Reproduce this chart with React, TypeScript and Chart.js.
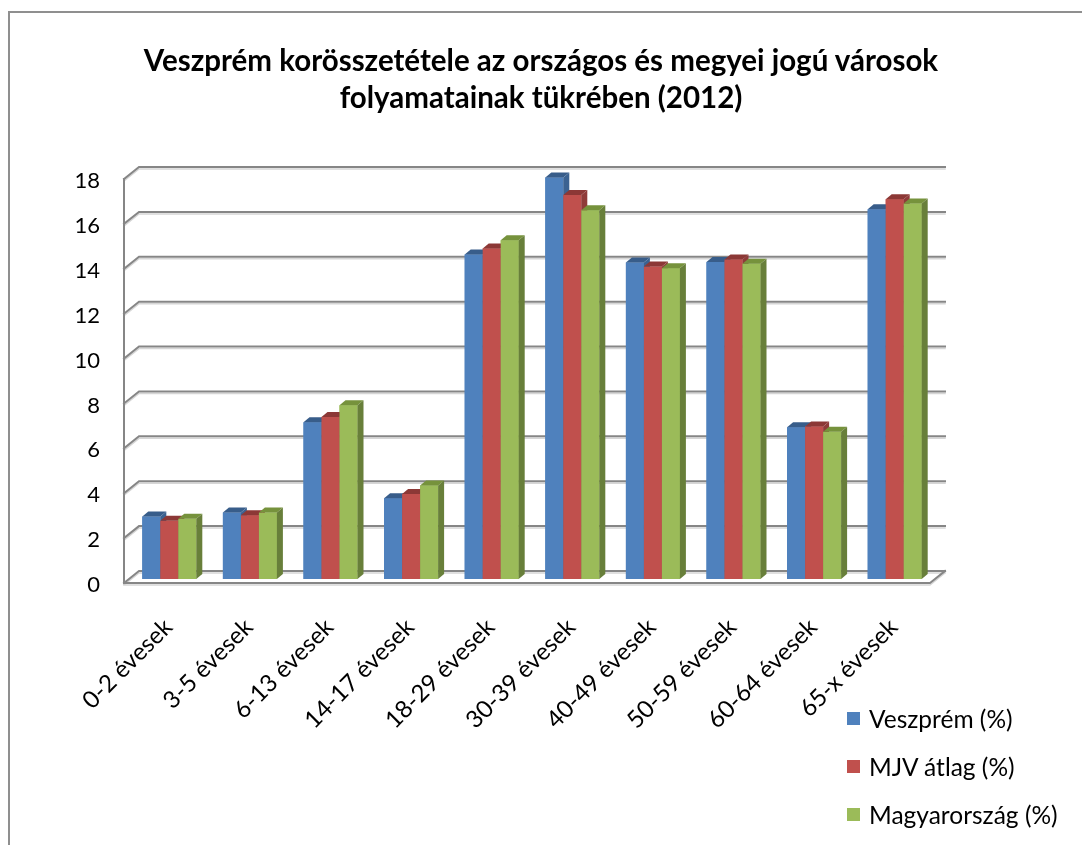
import React, { useEffect, useRef } from "react";
import { Chart, registerables } from "chart.js";

Chart.register(...registerables);

const categories = [
  "0-2 évesek",
  "3-5 évesek",
  "6-13 évesek",
  "14-17 évesek",
  "18-29 évesek",
  "30-39 évesek",
  "40-49 évesek",
  "50-59 évesek",
  "60-64 évesek",
  "65-x évesek",
];
const seriesNames = ["Veszprém (%)", "MJV átlag (%)", "Magyarország (%)"];
const veszprem = [2.78, 2.96, 6.98, 3.6, 14.46, 17.89, 14.1, 14.12, 6.76, 16.47];
const mjvAtlag = [2.59, 2.84, 7.22, 3.79, 14.73, 17.11, 13.92, 14.24, 6.8, 16.92];
const magyarorszag = [2.68, 2.96, 7.74, 4.17, 15.09, 16.43, 13.85, 14.05, 6.56, 16.73];
const yTicks = [0, 2, 4, 6, 8, 10, 12, 14, 16, 18];

const frontColors = ["#4F81BD", "#C0504D", "#9BBB59"];
const topColors = ["#385D8A", "#8C3836", "#76923C"];
const sideColors = ["#3B6291", "#8F3B39", "#687F3A"];

const FONT = "Lato, 'Open Sans', sans-serif";

const WALL_DX = 15;
const WALL_DY = 12;
const BAR_DX = 5;
const BAR_DY = 4;
const TOP_DX = 6;
const TOP_DY = 5;

const threeD = {
  id: "threeD",
  beforeDatasetsDraw(chart: any) {
    const { ctx, chartArea, scales } = chart;
    const { left, right, top, bottom } = chartArea;
    const y = scales.y;
    ctx.save();
    ctx.lineCap = "square";
    const drawGrid = (color: string, off: number, w: number) => {
      ctx.strokeStyle = color;
      ctx.lineWidth = w;
      ctx.beginPath();
      yTicks.forEach((v) => {
        const py = y.getPixelForValue(v) + off;
        ctx.moveTo(left, py);
        ctx.lineTo(left + WALL_DX, py - WALL_DY);
        ctx.lineTo(right + WALL_DX, py - WALL_DY);
      });
      ctx.moveTo(left, top + off);
      ctx.lineTo(left, bottom + off);
      ctx.lineTo(right, bottom + off);
      ctx.lineTo(right + WALL_DX, bottom - WALL_DY + off);
      ctx.stroke();
    };
    drawGrid("#d6d6d6", 2, 1.5);
    drawGrid("#868686", 0, 2);
    ctx.restore();
    ctx.save();
    ctx.translate(BAR_DX, -BAR_DY);
  },
  afterDatasetsDraw(chart: any) {
    const { ctx } = chart;
    const n = chart.data.labels.length;
    for (let i = 0; i < n; i++) {
      chart.data.datasets.forEach((_: any, d: number) => {
        const meta = chart.getDatasetMeta(d);
        const el = meta.data[i];
        if (!el) return;
        const { x, y, base, width } = el.getProps(["x", "y", "base", "width"], true);
        const l = x - width / 2;
        const r = x + width / 2;
        ctx.fillStyle = frontColors[d];
        ctx.fillRect(l, y, width, base - y);
        ctx.fillStyle = topColors[d];
        ctx.beginPath();
        ctx.moveTo(l, y);
        ctx.lineTo(l + TOP_DX, y - TOP_DY);
        ctx.lineTo(r + TOP_DX, y - TOP_DY);
        ctx.lineTo(r, y);
        ctx.closePath();
        ctx.fill();
        ctx.fillStyle = sideColors[d];
        ctx.beginPath();
        ctx.moveTo(r, y);
        ctx.lineTo(r + TOP_DX, y - TOP_DY);
        ctx.lineTo(r + TOP_DX, base - TOP_DY);
        ctx.lineTo(r, base);
        ctx.closePath();
        ctx.fill();
      });
    }
    ctx.restore();
  },
};

export default function App() {
  const ref = useRef<HTMLCanvasElement | null>(null);

  useEffect(() => {
    if (!ref.current) return;
    const values = [veszprem, mjvAtlag, magyarorszag];
    const chart = new Chart(ref.current, {
      type: "bar",
      data: {
        labels: categories,
        datasets: values.map((vals, i) => ({
          label: seriesNames[i],
          data: vals,
          backgroundColor: frontColors[i],
          borderWidth: 0,
          categoryPercentage: 0.67,
          barPercentage: 1,
          clip: false as any,
        })),
      },
      options: {
        responsive: false,
        animation: false,
        layout: { padding: { top: 179, right: 152, left: 0, bottom: 0 } },
        plugins: {
          legend: { display: false },
          title: { display: false },
          tooltip: { enabled: false },
        },
        scales: {
          x: {
            grid: { display: false, drawTicks: false },
            border: { display: false },
            ticks: {
              minRotation: 45,
              maxRotation: 45,
              autoSkip: false,
              padding: 30,
              labelOffset: 4,
              color: "#000",
              font: { family: FONT, size: 24 },
            },
            afterFit: (s: any) => {
              s.height = 262;
            },
          },
          y: {
            min: 0,
            max: 18,
            grid: { display: false, drawTicks: false },
            border: { display: false },
            ticks: {
              stepSize: 2,
              padding: 24,
              labelOffset: 2,
              color: "#000",
              font: { family: FONT, size: 22 },
            },
            afterFit: (s: any) => {
              s.width = 124;
            },
          },
        },
      },
      plugins: [threeD],
    });
    return () => chart.destroy();
  }, []);

  const legendTop = [719, 767, 815];

  return (
    <div
      style={{
        position: "absolute",
        left: 0,
        top: 0,
        width: 1082,
        height: 845,
        overflow: "hidden",
        background: "#fff",
        fontFamily: FONT,
      }}
    >
      <div
        style={{
          position: "absolute",
          left: 8,
          top: 11,
          width: 1200,
          height: 1000,
          borderTop: "2px solid #8f8f8f",
          borderLeft: "2px solid #8f8f8f",
          boxSizing: "border-box",
        }}
      />
      <canvas
        ref={ref}
        width={1082}
        height={845}
        style={{ position: "absolute", left: 0, top: 0, width: 1082, height: 845 }}
      />
      <div
        style={{
          position: "absolute",
          left: 0,
          top: 41,
          width: 1082,
          textAlign: "center",
          fontWeight: 700,
          fontSize: 29.5,
          lineHeight: "37px",
          color: "#000",
        }}
      >
        Veszprém korösszetétele az országos és megyei jogú városok
        <br />
        folyamatainak tükrében (2012)
      </div>
      {seriesNames.map((name, i) => (
        <div
          key={name}
          style={{
            position: "absolute",
            left: 847,
            top: legendTop[i] - 16,
            height: 30,
            display: "flex",
            alignItems: "center",
            fontSize: 24.5,
            color: "#000",
            whiteSpace: "nowrap",
          }}
        >
          <span
            style={{
              display: "inline-block",
              width: 13,
              height: 13,
              background: frontColors[i],
              marginRight: 9,
              flexShrink: 0,
            }}
          />
          {name}
        </div>
      ))}
    </div>
  );
}
